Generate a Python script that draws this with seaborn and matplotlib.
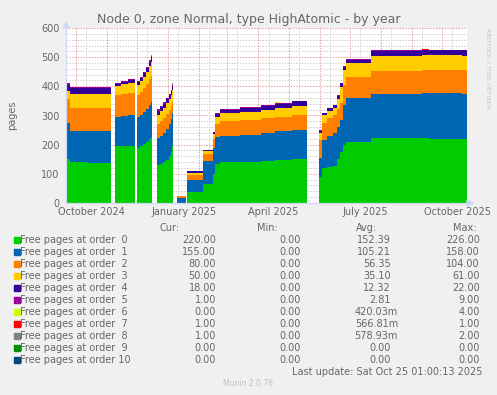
import datetime as dt
import numpy as np
import pandas as pd
import matplotlib
matplotlib.use("Agg")
import matplotlib.pyplot as plt
from matplotlib.patches import Rectangle, Polygon
import seaborn as sns

# ---------------- data ----------------
start_date = dt.date(2024, 9, 21)   # left edge of the plot
end_day = 400                        # right edge (Oct 25 2025)

# breakpoints (days since start_date); value holds until next breakpoint
day = [0, 4, 22, 25, 45, 49, 55, 62, 69, 71, 74, 77, 80, 83, 85, 86,
       91, 94, 97, 100, 103, 105, 106, 107, 111, 120, 121, 137, 147, 149,
       154, 174, 195, 208, 213, 225, 240, 252, 255, 260, 266, 270, 273,
       276, 279, 304, 355, 362, 395]

order0 = [150, 140, 138, 138, 0, 195, 196, 197, 0, 188, 195, 203, 210, 218, 226, 0,
          130, 135, 140, 148, 160, 175, 195, 0, 0, 0, 39, 65, 100, 135,
          140, 142, 145, 148, 148, 150, 0, 90, 120, 125, 128, 150, 176,
          200, 210, 222, 222, 221, 220]
order1 = [123, 107, 108, 108, 0, 100, 103, 104, 0, 107, 108, 110, 113, 118, 120, 0,
          92, 95, 100, 105, 110, 112, 112, 0, 18, 0, 40, 80, 90, 90,
          90, 91, 95, 98, 98, 102, 0, 65, 95, 105, 112, 112, 109,
          135, 149, 152, 154, 155, 155]
order2 = [82, 80, 81, 81, 0, 75, 76, 77, 0, 75, 78, 80, 84, 88, 90, 0,
          48, 50, 52, 53, 50, 45, 40, 0, 5, 0, 16, 22, 30, 45,
          50, 52, 50, 50, 50, 49, 0, 60, 60, 62, 63, 60, 57,
          70, 74, 80, 80, 80, 80]
order3 = [30, 47, 48, 48, 0, 31, 32, 33, 0, 35, 37, 40, 42, 45, 46, 0,
          33, 34, 35, 36, 37, 38, 40, 0, 2, 0, 9, 10, 15, 25,
          28, 28, 30, 31, 31, 33, 0, 25, 25, 24, 24, 35, 57,
          50, 46, 50, 50, 50, 50]
order4 = [20, 20, 20, 20, 0, 7, 9, 11, 0, 10, 11, 12, 14, 16, 17, 0,
          14, 14, 14, 14, 13, 13, 12, 0, 0, 0, 5, 5, 7, 10,
          12, 12, 13, 13, 13, 14, 0, 8, 8, 8, 8, 10, 11,
          12, 13, 17, 18, 18, 18]
order5 = [8, 4, 3, 3, 0, 3, 3, 3, 0, 3, 3, 4, 4, 5, 5, 0,
          4, 4, 4, 4, 4, 4, 4, 0, 0, 0, 1, 1, 2, 3,
          3, 3, 3, 3, 3, 3, 0, 2, 2, 2, 2, 2, 2,
          3, 3, 2, 2, 1, 1]
order6 = [0, 0, 0, 0, 0, 0, 0, 0, 0, 0, 0, 0, 0, 0, 0, 0,
          0, 0, 0, 0, 0, 0, 2, 0, 0, 0, 0, 0, 0, 0,
          0, 0, 0, 3, 0, 0, 0, 0, 0, 0, 0, 0, 0,
          0, 0, 0, 0, 0, 0]
order7 = [0, 0, 0, 0, 0, 0, 0, 0, 0, 0, 0, 0, 0, 0, 0, 0,
          0, 0, 0, 0, 0, 0, 0, 0, 0, 0, 0, 0, 0, 0,
          0, 0, 0, 0, 0, 0, 0, 0, 0, 0, 0, 0, 0,
          0, 0, 0, 1, 0, 1]
order8 = [0, 0, 1, 0, 0, 0, 0, 0, 0, 0, 0, 0, 1, 2, 3, 0,
          0, 0, 0, 0, 0, 1, 6, 0, 0, 0, 0, 0, 0, 0,
          0, 0, 0, 0, 0, 0, 0, 0, 0, 0, 0, 0, 0,
          0, 0, 0, 0, 0, 1]

series = [order0, order1, order2, order3, order4, order5, order6, order7, order8]

labels = ["Free pages at order %2d" % k for k in range(11)]
colors = ["#00CC00", "#0066B3", "#FF8000", "#FFCC00", "#330099", "#990099",
          "#CCFF00", "#FF0000", "#808080", "#008F00", "#00487D"]

cur_vals = ["220.00", "155.00", "80.00", "50.00", "18.00", "1.00", "0.00", "1.00", "1.00", "0.00", "0.00"]
min_vals = ["0.00"] * 11
avg_vals = ["152.39", "105.21", "56.35", "35.10", "12.32", "2.81", "420.03m", "566.81m", "578.93m", "0.00", "0.00"]
max_vals = ["226.00", "158.00", "104.00", "61.00", "22.00", "9.00", "4.00", "1.00", "2.00", "0.00", "0.00"]

title = "Node 0, zone Normal, type HighAtomic - by year"
ylabel = "pages"
quarter_labels = [(2024, 10, "October 2024"), (2025, 1, "January 2025"),
                  (2025, 4, "April 2025"), (2025, 7, "July 2025"),
                  (2025, 10, "October 2025")]
last_update = "Last update: Sat Oct 25 01:00:13 2025"

# ---------------- style ----------------
sns.set_style("white")
plt.rcParams["font.family"] = ["DejaVu Sans"]
FONT = "#666666"
AXIS = "#CFD6F8"
GRID = "#CFCFCF"
MGRID = "#E6A0A0"

W, H = 497, 395
fig = plt.figure(figsize=(W / 100, H / 100), dpi=100, facecolor="#F0F0F0")


def fx(px):
    return px / W


def fy(py):
    return 1 - py / H


ax = fig.add_axes([fx(66), fy(203), fx(467) - fx(66), fy(28) - fy(203)])
ax.set_facecolor("white")

# long table for seaborn
rows = []
for k, vals in enumerate(series):
    for d, v in zip(day, vals):
        rows.append({"day": d, "pages": v, "order": labels[k]})
df = pd.DataFrame(rows)
bins = list(day) + [end_day]

sns.histplot(data=df, x="day", weights="pages", hue="order",
             hue_order=labels[8::-1], palette=dict(zip(labels, colors)),
             multiple="stack", element="step", bins=bins, alpha=1,
             linewidth=0, edgecolor="none", legend=False, ax=ax, zorder=2)

ax.set_xlim(0, end_day)
ax.set_ylim(0, 600)
ax.set_xlabel("")
ax.set_ylabel("")

# grid
for v in range(20, 601, 20):
    ax.axhline(v, color=MGRID if v % 100 == 0 else GRID, lw=0.72,
               ls=(0, (1.4, 1.4)), zorder=0.5)


def dd(y, m, d=1):
    return (dt.date(y, m, d) - start_date).days


month_starts = []
y, m = 2024, 10
while (y, m) <= (2025, 10):
    month_starts.append(dd(y, m))
    m += 1
    if m == 13:
        y, m = y + 1, 1
minor_lines = [ms + 10 for ms in month_starts]
for ms in minor_lines:
    ax.axvline(ms, color=GRID, lw=0.72, ls=(0, (1.4, 1.4)), zorder=0.5)
for ms in month_starts:
    ax.axvline(ms, color=MGRID, lw=0.72, ls=(0, (1.4, 1.4)), zorder=0.5)

ax.set_xticks(month_starts)
ax.set_xticks(minor_lines, minor=True)
ax.tick_params(axis="x", which="major", direction="out", length=2.2, width=0.72,
               color="#E08080", labelbottom=False)
ax.tick_params(axis="x", which="minor", direction="out", length=2.2, width=0.72,
               color="#BBBBBB", labelbottom=False)
ax.set_yticks(range(0, 601, 100))
ax.set_yticks(range(0, 601, 20), minor=True)
ax.tick_params(axis="y", which="major", direction="out", length=2.2, width=0.72,
               color="#E08080", labelsize=7, labelcolor=FONT, pad=2.5)
ax.tick_params(axis="y", which="minor", direction="out", length=2.2, width=0.72,
               color="#BBBBBB")

for s in ["top", "right"]:
    ax.spines[s].set_visible(False)
for s in ["left", "bottom"]:
    ax.spines[s].set_color(AXIS)
    ax.spines[s].set_linewidth(0.9)
    ax.spines[s].set_zorder(3)

# quarter labels centred in their month
for (yy, mm, txt) in quarter_labels:
    s = dd(yy, mm)
    nm = dd(yy + (mm == 12), mm % 12 + 1)
    ax.text((s + nm) / 2, -(212 - 203) / 175, txt, transform=ax.get_xaxis_transform(),
            ha="center", va="center", fontsize=7, color=FONT)

# arrows
fig.patches.append(Polygon([[fx(467), fy(200)], [fx(467), fy(206)], [fx(473), fy(203)]],
                           closed=True, transform=fig.transFigure, color=AXIS))
fig.patches.append(Polygon([[fx(63), fy(28)], [fx(69), fy(28)], [fx(66), fy(22)]],
                           closed=True, transform=fig.transFigure, color=AXIS))

# title and side texts
fig.text(fx(249), fy(19), title, ha="center", va="center", fontsize=9, color=FONT)
fig.text(fx(12), fy(115), ylabel, ha="center", va="center", rotation=90,
         fontsize=7, color=FONT)
fig.text(fx(488), fy(28), "RRDTOOL / TOBI OETIKER", ha="center", va="top",
         rotation=270, fontsize=4.5, color="#C4C4C4")

# legend table
fig.text(fx(180), fy(228), "Cur:", ha="right", va="center", fontsize=7, color=FONT)
fig.text(fx(278), fy(228), "Min:", ha="right", va="center", fontsize=7, color=FONT)
fig.text(fx(377), fy(228), "Avg:", ha="right", va="center", fontsize=7, color=FONT)
fig.text(fx(477), fy(228), "Max:", ha="right", va="center", fontsize=7, color=FONT)
for k in range(11):
    yrow = 240 + 12 * k
    fig.patches.append(Rectangle((fx(14), fy(yrow + 3)), fx(6), 6 / H,
                                 transform=fig.transFigure, color=colors[k]))
    fig.text(fx(20.5), fy(yrow), labels[k], ha="left", va="center", fontsize=7, color=FONT)
    fig.text(fx(216), fy(yrow), cur_vals[k], ha="right", va="center", fontsize=7, color=FONT)
    fig.text(fx(301), fy(yrow), min_vals[k], ha="right", va="center", fontsize=7, color=FONT)
    fig.text(fx(398 if avg_vals[k].endswith("m") else 391), fy(yrow), avg_vals[k],
             ha="right", va="center", fontsize=7, color=FONT)
    fig.text(fx(480), fy(yrow), max_vals[k], ha="right", va="center", fontsize=7, color=FONT)

fig.text(fx(483), fy(372), last_update, ha="right", va="center", fontsize=7, color=FONT)
fig.text(fx(248), fy(384), "Munin 2.0.76", ha="center", va="center", fontsize=5.5,
         color="#C0C0C0")

fig.savefig("out.png", dpi=100, facecolor=fig.get_facecolor())
